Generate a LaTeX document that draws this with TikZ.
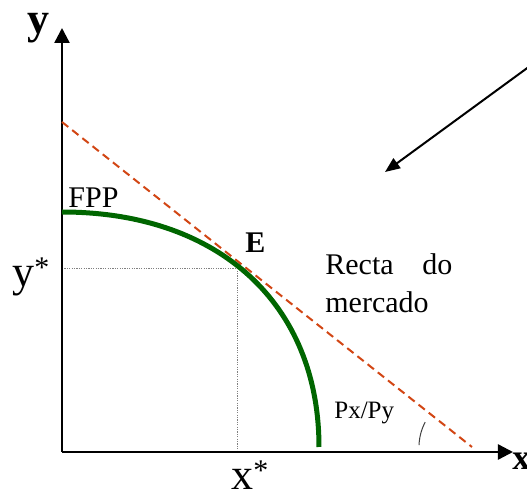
\documentclass[tikz,border=0pt]{standalone}
\usepackage{fontspec}
\setmainfont{Liberation Serif}
\usepackage{xcolor}
\usepackage{tikz}
\usetikzlibrary{arrows.meta,calc}
\definecolor{fppgreen}{RGB}{0,102,0}
\definecolor{mktred}{RGB}{210,70,20}
\newcommand{\starsup}{\raisebox{0.22em}{\fontsize{15}{15}\selectfont *}}

\begin{document}
\begin{tikzpicture}[x=0.5pt,y=-0.5pt,
          axis/.style={line width=1.2pt,-{Triangle[length=7.5pt,width=7.5pt]}},
          fpp/.style={line width=2.5pt,draw=fppgreen},
          mkt/.style={line width=1pt,draw=mktred,dash pattern=on 4pt off 2.5pt},
          guide/.style={line width=0.4pt,draw=gray,dash pattern=on 0.6pt off 0.6pt},
          big/.style={font=\fontsize{22}{26}\selectfont,inner sep=0pt,anchor=base west},
          bigb/.style={font=\fontsize{22}{26}\selectfont\bfseries,inner sep=0pt,anchor=base west},
          lbl/.style={font=\fontsize{15}{19}\selectfont,inner sep=0pt,anchor=base west},
          lblb/.style={font=\fontsize{15}{19}\selectfont\bfseries,inner sep=0pt,anchor=base west},
          sml/.style={font=\fontsize{12.5}{15}\selectfont,inner sep=0pt,anchor=base west}]
        \useasboundingbox (0,0) rectangle (527,492);
        \coordinate (O)     at (62,452);
        \coordinate (ytop)  at (62,28);
        \coordinate (xend)  at (513,452);
        \coordinate (ystar) at (62,268);
        \coordinate (xstar) at (237,452);
        \coordinate (E)     at (237,268);
        \coordinate (fppA)  at (62,212);
        \coordinate (fppB)  at (319,447);
        \coordinate (mktA)  at (62,122);
        \coordinate (mktB)  at (472,447);
        \coordinate (ptrA)  at (530,66);
        \coordinate (ptrB)  at (385,172);
        \draw[guide] (ystar) -- (E) -- (xstar);
        \draw[axis] (O) -- (ytop);
        \draw[axis] (O) -- (xend);
        \draw[mkt] (mktA) -- (mktB);
        \draw[fpp] (fppA) .. controls +(157,0) and +(0,-143) .. (fppB);
        \draw[line width=0.5pt,draw=darkgray] ($(mktB)+(178:26.5pt)$) arc[start angle=178,end angle=152,radius=26.5pt];
        \draw[line width=1pt,-{Triangle[length=7.5pt,width=6pt]}] (ptrA) -- (ptrB);
        \node[bigb] (ylab)     at (27,34)   {y};
        \node[bigb,font=\fontsize{18}{22}\selectfont\bfseries] (xlab) at (512,470) {x};
        \node[big]  (ystarlab) at (12,287)  {y\starsup};
        \node[big]  (xstarlab) at (231,490) {x\starsup};
        \node[lbl]  (fpplab)   at (68,208)  {FPP};
        \node[lblb] (Elab)     at (245,253) {E};
        \node[lbl]  (recta)    at (325,275) {\makebox[63.5pt][s]{Recta do}};
        \node[lbl]  (mercado)  at (325,313) {mercado};
        \node[sml]  (pxpy)     at (334,419) {Px/Py};
      \end{tikzpicture}
\end{document}
